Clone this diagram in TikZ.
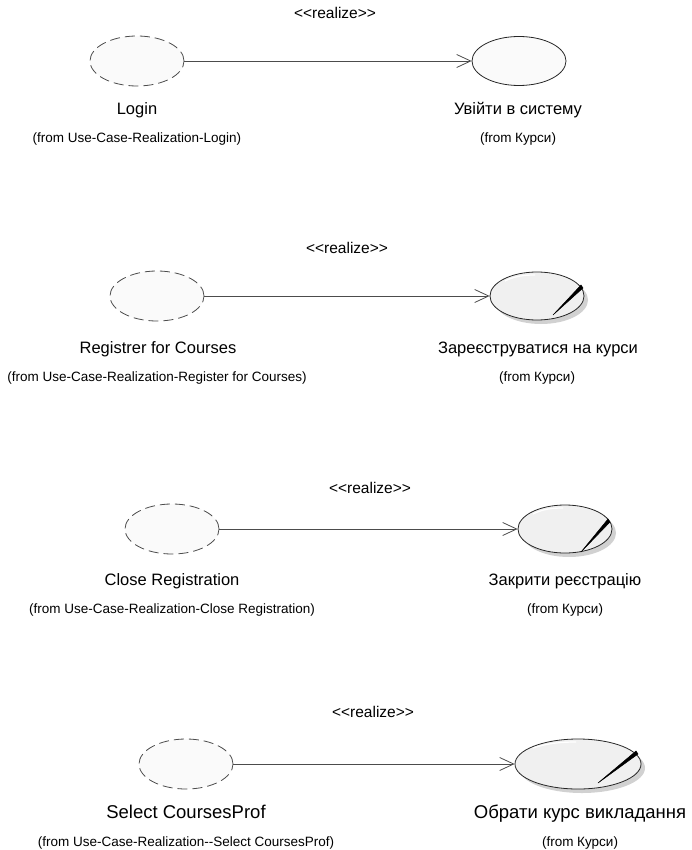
\documentclass[tikz,border=0pt]{standalone}
\usepackage{fontspec}
\setmainfont{Liberation Sans}
\usetikzlibrary{shapes.geometric,arrows.meta,shadows}
\begin{document}
\begin{tikzpicture}[x=1pt,y=-1pt,
  dashuc/.style={ellipse, draw=black!70, dash pattern=on 10pt off 5pt, fill=black!2, minimum width=94pt, minimum height=50pt, inner sep=0pt, line width=0.8pt},
  plainuc/.style={ellipse, draw=black!85, fill=black!2, minimum width=94pt, minimum height=49pt, inner sep=0pt, line width=0.8pt},
  bizuc/.style={ellipse, draw=black!85, fill=black!6, minimum width=94pt, minimum height=48pt, inner sep=0pt, line width=0.8pt,
     drop shadow={shadow xshift=4pt, shadow yshift=-4pt, fill=black!18, opacity=1}},
  realarrow/.style={draw=black!70, line width=0.8pt, -{Straight Barb[length=14pt,width=13pt,line width=0.8pt]}},
  stereo/.style={anchor=base, font=\fontsize{15.5}{17}\selectfont},
  ucname/.style={anchor=base, font=\fontsize{16.5}{18}\selectfont},
  bigname/.style={anchor=base, font=\fontsize{18.5}{20}\selectfont},
  fromtxt/.style={anchor=base, font=\fontsize{13.5}{15}\selectfont},
  wedge/.style={fill=black, draw=black, line width=0.5pt, line join=miter},
  hilite/.style={draw=white, line width=1.2pt}
]
\useasboundingbox (0,0) rectangle (691,850);

% ---------- group 1 ----------
\node[dashuc] (l1) at (137,61) {};
\node[plainuc] (r1) at (519,61) {};
\draw[realarrow] (l1.east) -- (r1.west);
\node[stereo] (s1) at (335,19) {<{}<realize>{}>};
\node[ucname] (n1a) at (137,115) {Login};
\node[fromtxt] (f1a) at (137,143) {(from Use-Case-Realization-Login)};
\node[ucname] (n1b) at (518,115) {Увійти в систему};
\node[fromtxt] (f1b) at (518,143) {(from Курси)};

% ---------- group 2 ----------
\node[dashuc] (l2) at (157,296) {};
\node[bizuc] (r2) at (537,296) {};
\draw[hilite] (505,281) .. controls (515,276) and (525,275) .. (535,275);
\fill[wedge] (581,285) -- (583,288) -- (553,315) -- cycle;
\draw[realarrow] (l2.east) -- (r2.west);
\node[stereo] (s2) at (347,253) {<{}<realize>{}>};
\node[ucname] (n2a) at (158,353) {Registrer for Courses};
\node[fromtxt] (f2a) at (157,381) {(from Use-Case-Realization-Register for Courses)};
\node[ucname] (n2b) at (538,353) {Зареєструватися на курси};
\node[fromtxt] (f2b) at (537,381) {(from Курси)};

% ---------- group 3 ----------
\node[dashuc] (l3) at (172,529) {};
\node[bizuc] (r3) at (565,529) {};
\draw[hilite] (533,514) .. controls (543,509) and (553,508) .. (563,508);
\fill[wedge] (608,519) -- (610,522) -- (581,552) -- cycle;
\draw[realarrow] (l3.east) -- (r3.west);
\node[stereo] (s3) at (370,493) {<{}<realize>{}>};
\node[ucname] (n3a) at (172,585) {Close Registration};
\node[fromtxt] (f3a) at (172,613) {(from Use-Case-Realization-Close Registration)};
\node[ucname] (n3b) at (565,585) {Закрити реєстрацію};
\node[fromtxt] (f3b) at (565,613) {(from Курси)};

% ---------- group 4 ----------
\node[dashuc] (l4) at (186,764) {};
\node[bizuc, minimum width=126pt, minimum height=50pt] (r4) at (578,764) {};
\draw[hilite] (533,748) .. controls (548,743) and (563,742) .. (576,742);
\fill[wedge] (636,751) -- (638,754) -- (598,783) -- cycle;
\draw[realarrow] (l4.east) -- (r4.west);
\node[stereo] (s4) at (373,717) {<{}<realize>{}>};
\node[bigname] (n4a) at (186,818) {Select CoursesProf};
\node[fromtxt] (f4a) at (186,846) {(from Use-Case-Realization-{}-Select CoursesProf)};
\node[bigname] (n4b) at (580,818) {Обрати курс викладання};
\node[fromtxt] (f4b) at (580,846) {(from Курси)};
\end{tikzpicture}
\end{document}
